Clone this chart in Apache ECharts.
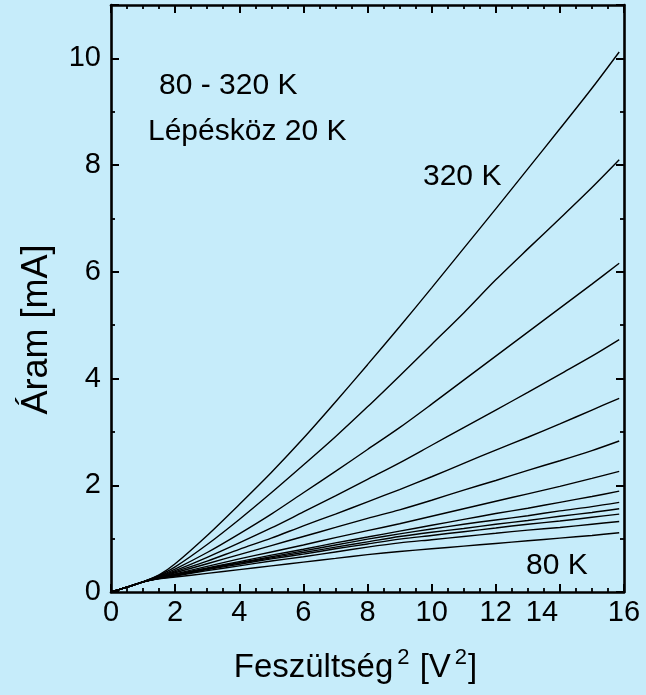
<!DOCTYPE html>
<html>
<head>
<meta charset="utf-8">
<script src="https://cdn.jsdelivr.net/npm/echarts@6/dist/echarts.min.js"></script>
<style>
  html, body { margin: 0; padding: 0; background: #c6ecfa; }
  #chart { width: 646px; height: 695px; }
</style>
</head>
<body>
<div id="chart"></div>
<script>
// Squared voltage (V^2) sample positions shared by every curve
const voltageSq = [0, 0.5, 1, 1.5, 2, 3, 4, 5, 6, 7, 8, 9, 10, 11, 12, 13, 14, 15, 15.85];

// Current (mA) for each temperature, 80 K to 320 K in 20 K steps
const temperatures = [80, 100, 120, 140, 160, 180, 200, 220, 240, 260, 280, 300, 320];
const current80  = [0, 0.09, 0.19, 0.245, 0.28, 0.35, 0.42, 0.49, 0.56, 0.63, 0.70, 0.76, 0.81, 0.86, 0.91, 0.96, 1.01, 1.06, 1.11];
const current100 = [0, 0.09, 0.19, 0.25, 0.30, 0.40, 0.49, 0.58, 0.66, 0.75, 0.84, 0.92, 0.98, 1.04, 1.10, 1.16, 1.21, 1.27, 1.32];
const current120 = [0, 0.09, 0.19, 0.255, 0.31, 0.42, 0.52, 0.62, 0.71, 0.81, 0.90, 0.99, 1.06, 1.13, 1.20, 1.27, 1.33, 1.40, 1.46];
const current140 = [0, 0.09, 0.19, 0.26, 0.32, 0.43, 0.54, 0.64, 0.74, 0.84, 0.94, 1.04, 1.12, 1.19, 1.27, 1.34, 1.42, 1.49, 1.56];
const current160 = [0, 0.09, 0.19, 0.26, 0.32, 0.44, 0.55, 0.66, 0.77, 0.88, 0.99, 1.09, 1.18, 1.27, 1.35, 1.43, 1.52, 1.60, 1.68];
const current180 = [0, 0.09, 0.19, 0.265, 0.33, 0.45, 0.57, 0.69, 0.80, 0.92, 1.03, 1.14, 1.25, 1.36, 1.47, 1.57, 1.68, 1.79, 1.89];
const current200 = [0, 0.09, 0.19, 0.27, 0.34, 0.48, 0.62, 0.75, 0.88, 1.02, 1.15, 1.28, 1.42, 1.56, 1.70, 1.84, 1.98, 2.13, 2.26];
const current220 = [0, 0.09, 0.19, 0.275, 0.36, 0.53, 0.70, 0.87, 1.04, 1.21, 1.38, 1.54, 1.72, 1.91, 2.09, 2.28, 2.46, 2.65, 2.83];
const current240 = [0, 0.09, 0.19, 0.28, 0.38, 0.58, 0.80, 1.01, 1.24, 1.46, 1.69, 1.92, 2.16, 2.41, 2.66, 2.90, 3.15, 3.41, 3.63];
const current260 = [0, 0.09, 0.19, 0.29, 0.40, 0.65, 0.92, 1.20, 1.50, 1.80, 2.11, 2.42, 2.75, 3.08, 3.41, 3.74, 4.08, 4.42, 4.73];
const current280 = [0, 0.09, 0.19, 0.30, 0.43, 0.74, 1.09, 1.46, 1.86, 2.26, 2.67, 3.08, 3.52, 3.97, 4.42, 4.87, 5.32, 5.77, 6.16];
const current300 = [0, 0.09, 0.19, 0.31, 0.47, 0.89, 1.36, 1.86, 2.38, 2.91, 3.47, 4.05, 4.64, 5.23, 5.85, 6.43, 7.00, 7.58, 8.10];
const current320 = [0, 0.09, 0.19, 0.32, 0.53, 1.06, 1.64, 2.24, 2.88, 3.56, 4.26, 4.97, 5.70, 6.44, 7.18, 7.93, 8.68, 9.44, 10.12];

const currents = [current80, current100, current120, current140, current160, current180, current200,
                  current220, current240, current260, current280, current300, current320];

// Axis tick labels
const xTicks = [0, 2, 4, 6, 8, 10, 12, 14, 16];
const yTicks = [0, 2, 4, 6, 8, 10];

const FONT = "'Liberation Sans', Arial, sans-serif";
const INK = '#000000';

const chart = echarts.init(document.getElementById('chart'), null, { renderer: 'canvas' });

const series = temperatures.map((t, i) => ({
  name: t + ' K',
  type: 'line',
  xAxisIndex: 0,
  yAxisIndex: 0,
  data: voltageSq.map((v, j) => [v, currents[i][j]]),
  showSymbol: false,
  symbol: 'none',
  smooth: 0.3,
  lineStyle: { color: INK, width: 1.4 },
  silent: true,
  animation: false
}));

const frameLine = { show: true, onZero: false, lineStyle: { color: INK, width: 2.6 } };
const majorTick = { show: true, inside: true, length: 8, lineStyle: { color: INK, width: 2 } };

function minorTick(n) {
  return { show: true, splitNumber: n, length: 4, lineStyle: { color: INK, width: 1.8 } };
}

chart.setOption({
  backgroundColor: '#c6ecfa',
  animation: false,
  grid: { left: 111, right: 22, top: 5, bottom: 103, containLabel: false },
  xAxis: [
    {
      type: 'value', position: 'bottom',
      min: xTicks[0], max: xTicks[xTicks.length - 1], interval: 2,
      axisLine: frameLine, axisTick: majorTick, minorTick: minorTick(4),
      splitLine: { show: false },
      axisLabel: {
        show: true, margin: 6, color: INK, fontSize: 29, fontFamily: FONT,
        formatter: v => (v === 14 ? '{shift|14}' : String(v)),
        rich: { shift: { fontSize: 29, fontFamily: FONT, color: INK, padding: [0, 36, 0, 0] } }
      },
      name: 'Feszültség{sup|2} [V{sup|2}]',
      nameLocation: 'middle', nameGap: 55,
      nameTextStyle: {
        color: INK, fontSize: 33, fontFamily: FONT, lineHeight: 42, padding: [0, 24, 0, 0],
        rich: { sup: { fontSize: 22, fontFamily: FONT, color: INK, verticalAlign: 'top', lineHeight: 22, padding: [0, 1, 0, 4] } }
      }
    },
    {
      type: 'value', position: 'top',
      min: xTicks[0], max: xTicks[xTicks.length - 1], interval: 2,
      axisLine: frameLine, axisTick: majorTick, minorTick: minorTick(4),
      splitLine: { show: false }, axisLabel: { show: false }
    }
  ],
  yAxis: [
    {
      type: 'value', position: 'left',
      min: yTicks[0], max: 11, interval: 2,
      axisLine: frameLine, axisTick: majorTick, minorTick: minorTick(2),
      splitLine: { show: false },
      axisLabel: {
        show: true, margin: 10, color: INK, fontSize: 29, fontFamily: FONT,
        formatter: v => (yTicks.includes(v) ? String(v) : '')
      },
      name: 'Áram [mA]',
      nameLocation: 'middle', nameRotate: 90, nameGap: 56,
      nameTextStyle: { color: INK, fontSize: 36, fontFamily: FONT, padding: [0, 62, 0, 0] }
    },
    {
      type: 'value', position: 'right',
      min: yTicks[0], max: 11, interval: 2,
      axisLine: frameLine, axisTick: majorTick, minorTick: minorTick(2),
      splitLine: { show: false }, axisLabel: { show: false }
    }
  ],
  graphic: [
    { type: 'text', left: 159, top: 71, style: { text: '80 - 320 K', fill: INK, font: '30px ' + FONT } },
    { type: 'text', left: 148, top: 117, style: { text: 'Lépésköz 20 K', fill: INK, font: '30px ' + FONT } },
    { type: 'text', left: 423, top: 162, style: { text: '320 K', fill: INK, font: '30px ' + FONT } },
    { type: 'text', left: 526, top: 551, style: { text: '80 K', fill: INK, font: '30px ' + FONT } }
  ],
  series: series
});
</script>
</body>
</html>
